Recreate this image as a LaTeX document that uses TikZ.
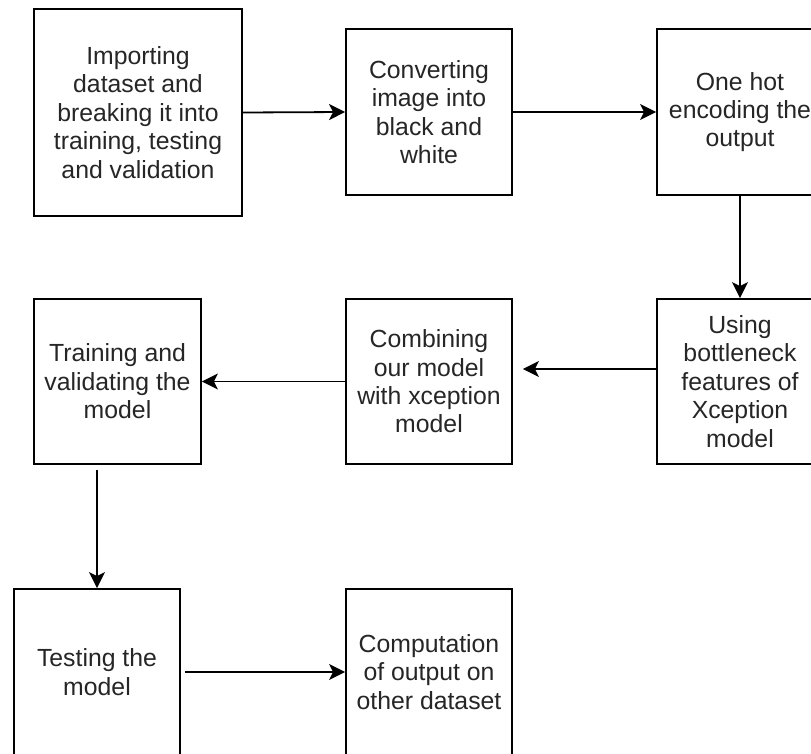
\documentclass[tikz,border=0pt]{standalone}
\usepackage{fontspec}
\setmainfont{Liberation Sans}
\usetikzlibrary{arrows.meta}
\begin{document}
\begin{tikzpicture}[x=1pt,y=-1pt,
  box/.style={draw=black, line width=1.8pt, fill=white, inner sep=0pt, align=center,
    font=\fontsize{24.8}{28.4}\selectfont, text=black!85},
  conn/.style={line width=1.8pt, -{Stealth[length=16pt,width=16pt,inset=4pt]}}]
\useasboundingbox (0,0) rectangle (811,754);
\clip (0,0) rectangle (811,754);
\node[box, minimum width=208pt, minimum height=207pt] (b1) at (138,112.5)
  {Importing\\dataset and\\breaking it into\\training, testing\\and validation};
\node[box, minimum width=166pt, minimum height=166pt] (b2) at (429,112)
  {Converting\\image into\\black and\\white};
\node[box, minimum width=166pt, minimum height=166pt] (b3) at (740,112)
  {One hot\\encoding the\\output};
\node[box, minimum width=166pt, minimum height=165pt] (b4) at (740,381.5)
  {Using\\bottleneck\\features of\\Xception\\model};
\node[box, minimum width=166pt, minimum height=165pt] (b5) at (429,381.5)
  {Combining\\our model\\with xception\\model};
\node[box, minimum width=167pt, minimum height=165pt] (b6) at (117.5,381.5)
  {Training and\\validating the\\model};
\node[box, minimum width=166pt, minimum height=166pt] (b7) at (97,672)
  {Testing the\\model};
\node[box, minimum width=166pt, minimum height=166pt] (b8) at (429,672)
  {Computation\\of output on\\other dataset};
\draw[conn] (b1.east) -- (b2.west);
\draw[conn] (b2.east) -- (b3.west);
\draw[conn] (b3.south) -- (b4.north);
\draw[conn] ([yshift=12.5pt]b4.west) -- ([xshift=10pt,yshift=12.5pt]b5.east);
\draw[conn] (b5.west) -- (b6.east);
\draw[conn] ([xshift=-20.5pt,yshift=-5pt]b6.south) -- (b7.north);
\draw[conn] ([xshift=4pt]b7.east) -- (b8.west);
\end{tikzpicture}
\end{document}
